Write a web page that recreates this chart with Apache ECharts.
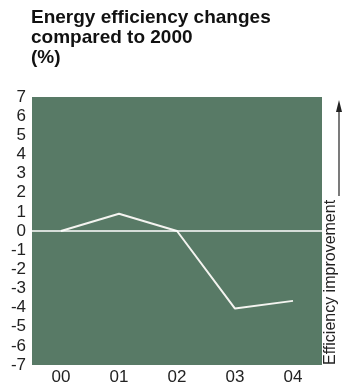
<!DOCTYPE html>
<html>
<head>
<meta charset="utf-8">
<script src="https://cdn.jsdelivr.net/npm/echarts@6/dist/echarts.min.js"></script>
<style>
  html, body { margin: 0; padding: 0; background: #fff; }
  #chart { width: 345px; height: 391px; }
</style>
</head>
<body>
<div id="chart"></div>
<script>
// years on the x axis
var years = ['00', '01', '02', '03', '04'];
// energy efficiency change vs 2000, %
var changes = [0, 0.9, 0, -4.05, -3.65];
var titleLines = ['Energy efficiency changes', 'compared to 2000', '(%)'];
var sideLabel = 'Efficiency improvement';

var chart = echarts.init(document.getElementById('chart'));
var font = 'Liberation Sans, Arial, sans-serif';

var option = {
    animation: false,
    title: {
        text: titleLines.join('\n'),
        left: 26,
        top: 3,
        textStyle: {
            fontFamily: font,
            fontSize: 19,
            fontWeight: 'bold',
            lineHeight: 20,
            color: '#111'
        }
    },
    grid: {
        left: 32,
        right: 23,
        top: 97,
        bottom: 26,
        show: true,
        backgroundColor: '#587a66',
        borderWidth: 0
    },
    xAxis: {
        type: 'category',
        data: years,
        boundaryGap: true,
        axisLine: { show: false },
        axisTick: { show: false },
        axisLabel: {
            fontFamily: font,
            fontSize: 17,
            color: '#222',
            margin: 4
        }
    },
    yAxis: {
        type: 'value',
        min: -7,
        max: 7,
        interval: 1,
        splitLine: { show: false },
        axisLine: { show: false },
        axisTick: { show: false },
        axisLabel: {
            fontFamily: font,
            fontSize: 17,
            color: '#222',
            margin: 6
        }
    },
    series: [
        {
            // zero reference line
            type: 'line',
            data: [],
            markLine: {
                silent: true,
                symbol: 'none',
                label: { show: false },
                lineStyle: { color: '#ffffff', width: 1.5, type: 'solid' },
                data: [{ yAxis: 0 }]
            }
        },
        {
            type: 'line',
            data: changes,
            showSymbol: false,
            lineStyle: { color: '#f4f4f0', width: 2 }
        }
    ],
    graphic: [
        {
            type: 'text',
            x: 331,
            y: 365,
            rotation: Math.PI / 2,
            style: {
                text: sideLabel,
                fontFamily: font,
                fontSize: 16,
                fill: '#222',
                align: 'left',
                verticalAlign: 'middle'
            }
        },
        {
            type: 'line',
            shape: { x1: 339, y1: 196, x2: 339, y2: 110 },
            style: { stroke: '#222', lineWidth: 1.2 }
        },
        {
            type: 'polygon',
            shape: { points: [[336, 112], [342, 112], [339, 100]] },
            style: { fill: '#222' }
        }
    ]
};

chart.setOption(option);
</script>
</body>
</html>
